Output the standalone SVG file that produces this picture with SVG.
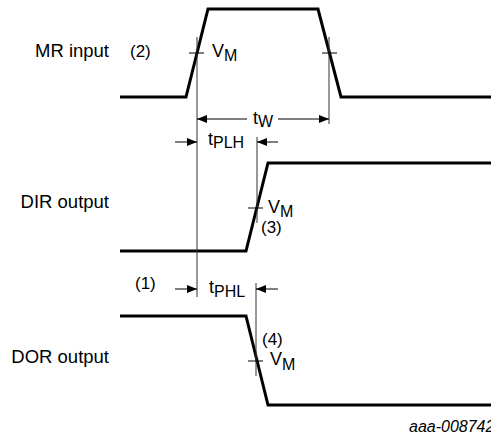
<svg xmlns="http://www.w3.org/2000/svg" width="491" height="436" viewBox="0 0 491 436">
<defs>
<style>
.wave{fill:none;stroke:#000;stroke-width:3;stroke-linejoin:miter}
.thin{fill:none;stroke:#333;stroke-width:1}
.dim{fill:none;stroke:#000;stroke-width:1}
text{font-family:"Liberation Sans",Arial,sans-serif;fill:#000}
.lbl{font-size:18.5px;text-anchor:end}
.sym{font-size:18px}
.sub{font-size:16px}
.note{font-size:17px}
.id{font-size:16px;font-style:italic}
</style>
<marker id="ah" viewBox="0 0 10 8" refX="10" refY="4" markerWidth="10" markerHeight="8" markerUnits="userSpaceOnUse" orient="auto">
<path d="M0,0 L10,4 L0,8 z" fill="#000"/>
</marker>
</defs>
<rect width="491" height="436" fill="#fff"/>
<g id="labels">
<text class="lbl" x="109" y="57">MR input</text>
<text class="lbl" x="109" y="208">DIR output</text>
<text class="lbl" x="109" y="363">DOR output</text>
</g>
<g id="mr-input">
<polyline class="wave" points="120,97 186,97 208,9 318,9 341,97 491,97"/>
<text class="note" x="130" y="57">(2)</text>
<text class="sym" x="212" y="57">V<tspan class="sub" dy="4">M</tspan></text>
</g>
<g id="dir-output">
<polyline class="wave" points="120,251 246,251 268,163 491,163"/>
<text class="sym" x="268" y="213">V<tspan class="sub" dy="4">M</tspan></text>
<text class="note" x="261" y="233">(3)</text>
</g>
<g id="dor-output">
<polyline class="wave" points="120,316 246,316 268,405 491,405"/>
<text class="note" x="262" y="345">(4)</text>
<text class="sym" x="270" y="365">V<tspan class="sub" dy="5">M</tspan></text>
</g>
<g id="connectors">
<line class="thin" x1="197" y1="37" x2="197" y2="297"/>
<line class="thin" x1="329" y1="37" x2="329" y2="124"/>
<line class="dim" x1="189" y1="53" x2="204" y2="53"/>
<line class="dim" x1="322" y1="53" x2="337" y2="53"/>
<line class="dim" x1="247" y1="119" x2="197" y2="119" marker-end="url(#ah)"/>
<line class="dim" x1="278" y1="119" x2="329" y2="119" marker-end="url(#ah)"/>
<line class="dim" x1="175" y1="142" x2="197" y2="142" marker-end="url(#ah)"/>
<line class="thin" x1="257" y1="137" x2="257" y2="223"/>
<line class="dim" x1="278" y1="142" x2="257" y2="142" marker-end="url(#ah)"/>
<line class="dim" x1="248" y1="208" x2="263" y2="208"/>
<line class="dim" x1="175" y1="289" x2="197" y2="289" marker-end="url(#ah)"/>
<line class="thin" x1="256" y1="283" x2="256" y2="376"/>
<line class="dim" x1="278" y1="289" x2="256" y2="289" marker-end="url(#ah)"/>
<line class="dim" x1="248" y1="361" x2="263" y2="361"/>
</g>
<g id="dim-labels">
<text class="sym" x="253" y="124">t<tspan class="sub" dy="3">W</tspan></text>
<text class="sym" x="208" y="145">t<tspan class="sub" dy="3">PLH</tspan></text>
<text class="note" x="135" y="289">(1)</text>
<text class="sym" x="209" y="293">t<tspan class="sub" dy="4">PHL</tspan></text>
</g>
<text class="id" x="409" y="432">aaa-008742</text>
</svg>
